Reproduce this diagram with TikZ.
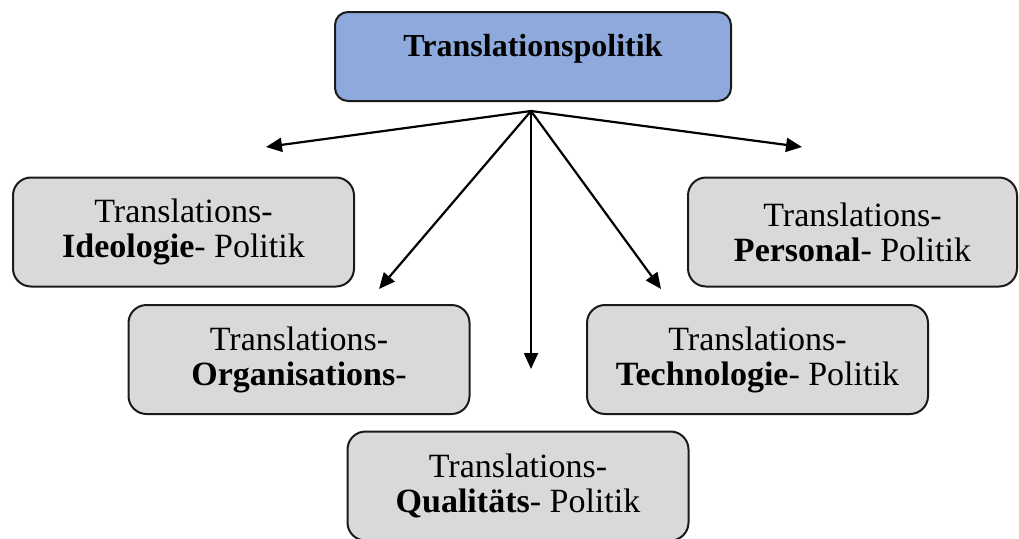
\documentclass[tikz,border=0pt]{standalone}
\usepackage{fontspec}
\setmainfont{Liberation Serif}
\usetikzlibrary{arrows.meta}

\definecolor{headblue}{HTML}{8EA9DB}
\definecolor{boxgray}{HTML}{D9D9D9}
\definecolor{edgedark}{HTML}{1A1A1A}

\tikzset{
  headbox/.style={draw=edgedark, line width=2pt, fill=headblue, rounded corners=13pt,
    minimum width=396pt, inner xsep=0pt, inner ysep=22pt, text height=22pt, text depth=23pt,
    font=\fontsize{32}{36}\selectfont\bfseries, anchor=north},
  topicbox/.style={draw=edgedark, line width=2pt, fill=boxgray, rounded corners=18pt,
    minimum width=341pt, minimum height=109pt, inner sep=0pt, align=center,
    font=\fontsize{34}{35}\selectfont},
  branch/.style={draw=black, line width=2.2pt, -{Triangle[length=16pt,width=14pt]}}
}

\begin{document}
\begin{tikzpicture}[x=1pt, y=-1pt]
  \useasboundingbox (0,0) rectangle (1019,538);

  % head of the hierarchy
  \node[headbox] (head) at (533,11) {Translationspolitik};

  % the fields of translation policy
  \node[topicbox] (ideo) at (183.5,232) {Translations-\\\textbf{Ideologie}- Politik};
  \node[topicbox] (orga) at (299,359.5) {Translations-\\\textbf{Organisations}-};
  \node[topicbox] (qual) at (518,486) {Translations-\\\textbf{Qualitäts}- Politik};
  \node[topicbox] (tech) at (757.5,359.5) {Translations-\\\textbf{Technologie}- Politik};
  \node[topicbox, minimum width=329pt] (pers) at (852.5,232) {Translations-\\\textbf{Personal}- Politik};

  % branching arrows from a common hub below the head
  \coordinate (hub) at (531,111);
  \coordinate (endL)  at (266,147);
  \coordinate (endR)  at (802,147);
  \coordinate (endDL) at (379,289);
  \coordinate (endDR) at (661,289);
  \coordinate (endD)  at (531,369);

  \draw[branch] (hub) -- (endL);
  \draw[branch] (hub) -- (endR);
  \draw[branch] (hub) -- (endDL);
  \draw[branch] (hub) -- (endDR);
  \draw[branch] (hub) -- (endD);
\end{tikzpicture}
\end{document}
